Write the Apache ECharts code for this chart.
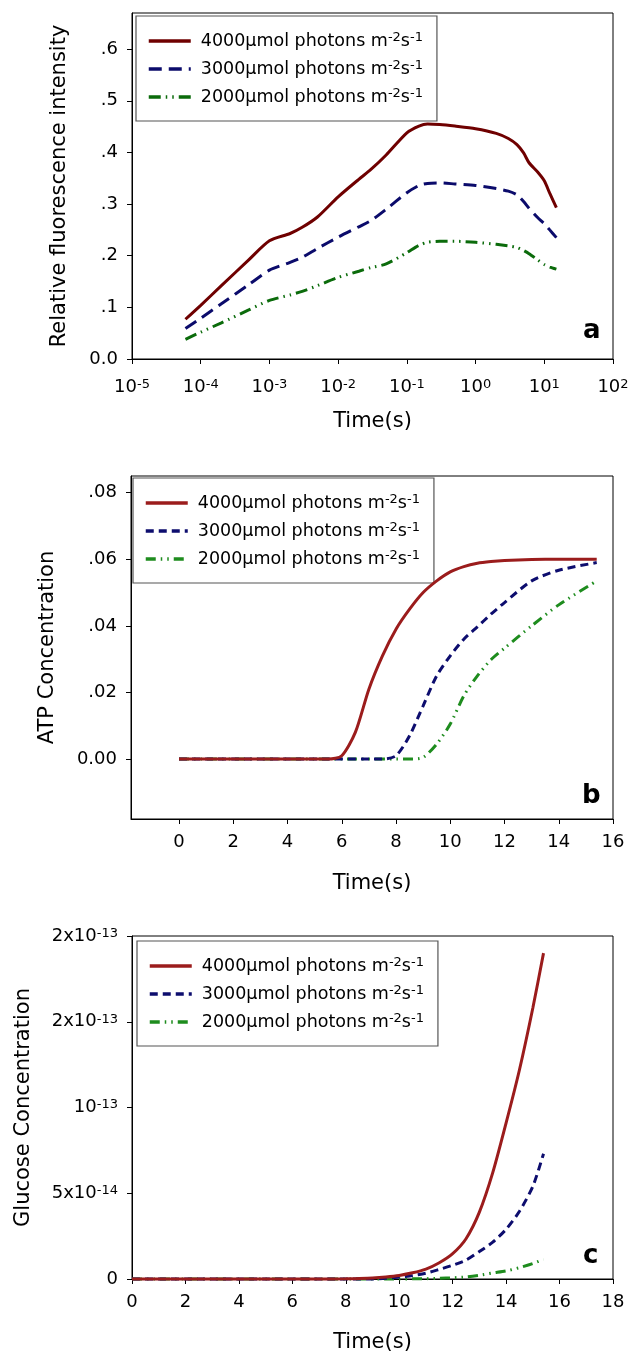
<!DOCTYPE html>
<html><head><meta charset="utf-8">
<script src="https://cdn.jsdelivr.net/npm/echarts@6/dist/echarts.min.js"></script>
<style>html,body{margin:0;padding:0;background:#fff}#c{width:630px;height:1358px}</style>
</head><body><div id="c"></div><script>
// ---------- data ----------
const lightLevels = ['4000', '3000', '2000'];

// Panel a: relative fluorescence vs time (log scale)
const timeA = [6e-5, 1e-4, 2e-4, 5e-4, 1e-3, 2e-3, 3e-3, 5e-3, 1e-2, 2e-2, 3e-2, 5e-2, 0.1, 0.15, 0.2, 0.3, 0.5, 1, 2, 3, 4, 5, 6, 8, 10, 12, 15];
const fluor4000 = [0.077, 0.104, 0.142, 0.192, 0.229, 0.243, 0.255, 0.275, 0.314, 0.348, 0.367, 0.395, 0.438, 0.451, 0.455, 0.454, 0.451, 0.446, 0.437, 0.427, 0.415, 0.399, 0.380, 0.362, 0.345, 0.321, 0.293];
const fluor3000 = [0.059, 0.079, 0.107, 0.144, 0.172, 0.187, 0.197, 0.214, 0.236, 0.256, 0.268, 0.290, 0.322, 0.336, 0.340, 0.341, 0.339, 0.336, 0.330, 0.325, 0.318, 0.305, 0.292, 0.274, 0.262, 0.250, 0.235];
const fluor2000 = [0.038, 0.052, 0.070, 0.095, 0.1135, 0.124, 0.131, 0.142, 0.158, 0.170, 0.177, 0.184, 0.206, 0.220, 0.226, 0.228, 0.228, 0.226, 0.222, 0.219, 0.216, 0.210, 0.204, 0.192, 0.183, 0.178, 0.174];
const xExpA = [-5, -4, -3, -2, -1, 0, 1, 2];
const yTicksA = [0, 0.1, 0.2, 0.3, 0.4, 0.5, 0.6];
const yLabelsA = ['0.0', '.1', '.2', '.3', '.4', '.5', '.6'];

// Panel b: ATP concentration vs time
const timeB = [0, 1, 2, 3, 4, 5, 5.5, 6, 6.5, 7, 7.5, 8, 8.5, 9, 9.5, 10, 10.5, 11, 11.5, 12, 13, 14, 15.4];
const atp4000 = [0, 0, 0, 0, 0, 0, 0, 0.001, 0.008, 0.021, 0.031, 0.039, 0.045, 0.050, 0.0535, 0.0562, 0.0578, 0.0588, 0.0593, 0.0596, 0.0599, 0.0600, 0.0600];
const atp3000 = [0, 0, 0, 0, 0, 0, 0, 0, 0, 0, 0, 0.001, 0.007, 0.016, 0.025, 0.031, 0.036, 0.0397, 0.0435, 0.047, 0.0535, 0.0567, 0.059];
const atp2000 = [0, 0, 0, 0, 0, 0, 0, 0, 0, 0, 0, 0, 0, 0.0005, 0.0045, 0.0105, 0.019, 0.025, 0.0298, 0.0333, 0.040, 0.0463, 0.0535];
const xTicksB = [0, 2, 4, 6, 8, 10, 12, 14, 16];
const yTicksB = [0, 0.02, 0.04, 0.06, 0.08];
const yLabelsB = ['0.00', '.02', '.04', '.06', '.08'];

// Panel c: glucose concentration vs time
const timeC = [0, 1, 2, 3, 4, 5, 6, 7, 8, 8.5, 9, 9.5, 10, 10.5, 11, 11.5, 12, 12.5, 13, 13.5, 14, 14.5, 15, 15.4];
const glc4000 = [0, 0, 0, 0, 0, 0, 0, 0, 0.001e-13, 0.003e-13, 0.006e-13, 0.012e-13, 0.021e-13, 0.036e-13, 0.058e-13, 0.095e-13, 0.148e-13, 0.235e-13, 0.39e-13, 0.62e-13, 0.91e-13, 1.22e-13, 1.58e-13, 1.90e-13];
const glc3000 = [0, 0, 0, 0, 0, 0, 0, 0, 0, 0, 0, 0.004e-13, 0.011e-13, 0.02e-13, 0.034e-13, 0.056e-13, 0.08e-13, 0.11e-13, 0.16e-13, 0.215e-13, 0.29e-13, 0.395e-13, 0.54e-13, 0.73e-13];
const glc2000 = [0, 0, 0, 0, 0, 0, 0, 0, 0, 0, 0, 0, 0, 0.001e-13, 0.002e-13, 0.004e-13, 0.007e-13, 0.012e-13, 0.022e-13, 0.035e-13, 0.047e-13, 0.066e-13, 0.09e-13, 0.115e-13];
const xTicksC = [0, 2, 4, 6, 8, 10, 12, 14, 16, 18];
const yTicksC = [0, 5e-14, 1e-13, 1.5e-13, 2e-13];
const yLabelsC = ['0', '5x10{sup|-14}', '10{sup|-13}', '2x10{sup|-13}', '2x10{sup|-13}'];

// ---------- styling ----------
const FONT = 'DejaVu Sans';
const zip = (xs, ys) => xs.map((x, i) => [x, ys[i]]);
const findLabel = (ticks, labels, v) => {
  for (let i = 0; i < ticks.length; i++) {
    if (Math.abs(ticks[i] - v) <= Math.abs(ticks[ticks.length - 1]) * 1e-6 + 1e-18) return labels[i];
  }
  return '';
};
const sup = { fontSize: 13, fontFamily: FONT, color: '#000', verticalAlign: 'top', lineHeight: 12 };
const tickLabel = (extra) => Object.assign({ fontSize: 18, fontFamily: FONT, color: '#000', rich: { sup } }, extra);
const axisLine = { show: true, onZero: false, lineStyle: { color: '#000', width: 1 } };
const axisTick = (vals, extra) => Object.assign({ show: true, length: 5, lineStyle: { color: '#000', width: 1 } }, vals ? { customValues: vals } : {}, extra || {});
const nameStyle = { fontSize: 21, fontFamily: FONT, color: '#000' };

const stylesA = [
  { color: '#6f0000', type: 'solid' },
  { color: '#0b0b6b', type: [13, 7] },
  { color: '#0b6b0b', type: [12, 5, 1.5, 5, 1.5, 5] }
];
const stylesBC = [
  { color: '#9b1c1c', type: 'solid' },
  { color: '#0d0d6e', type: [8, 5] },
  { color: '#1e8c1e', type: [10, 5, 1.5, 5, 1.5, 5] }
];

function mkSeries(prefix, idx, xs, ysList, styles) {
  return ysList.map((ys, i) => ({
    name: prefix + lightLevels[i],
    type: 'line',
    xAxisIndex: idx, yAxisIndex: idx,
    data: zip(xs, ys),
    symbol: 'none',
    smooth: 0.25,
    clip: false,
    z: 5 - i,
    lineStyle: { color: styles[i].color, width: 3, type: styles[i].type, cap: 'butt' },
    itemStyle: { color: styles[i].color }
  }));
}

function mkLegend(prefix, left, top) {
  return {
    data: lightLevels.map(l => prefix + l),
    orient: 'vertical',
    left, top,
    selectedMode: false,
    backgroundColor: '#fff',
    borderColor: '#555',
    borderWidth: 1.2,
    borderRadius: 0,
    padding: [15, 14, 14, 11],
    itemWidth: 42,
    itemHeight: 14,
    itemGap: 8,
    itemStyle: { color: 'rgba(0,0,0,0)', borderColor: 'rgba(0,0,0,0)', borderWidth: 0, opacity: 0 },
    lineStyle: { width: 3.5 },
    formatter: name => name.slice(1) + 'μmol photons m{sup|-2}s{sup|-1}',
    textStyle: {
      fontSize: 17.5, fontFamily: FONT, color: '#000', lineHeight: 20, padding: [0, 0, 0, 5],
      rich: { sup: { fontSize: 13, fontFamily: FONT, color: '#000', verticalAlign: 'top', lineHeight: 12 } }
    }
  };
}

const option = {
  animation: false,
  backgroundColor: '#fff',
  grid: [
    { left: 132, right: 17, top: 13, height: 346, show: true, borderColor: '#000', borderWidth: 1, backgroundColor: '#fff', containLabel: false, outerBoundsMode: 'none' },
    { left: 131, right: 17, top: 476, height: 343, show: true, borderColor: '#000', borderWidth: 1, backgroundColor: '#fff', containLabel: false, outerBoundsMode: 'none' },
    { left: 132, right: 17, top: 936, height: 343, show: true, borderColor: '#000', borderWidth: 1, backgroundColor: '#fff', containLabel: false, outerBoundsMode: 'none' }
  ],
  xAxis: [
    {
      gridIndex: 0, type: 'log', logBase: 10, min: 1e-5, max: 1e2, interval: 1, splitNumber: 7,
      name: 'Time(s)', nameLocation: 'middle', nameGap: 52, nameTextStyle: nameStyle,
      axisLine, axisTick: axisTick(null), splitLine: { show: false }, minorTick: { show: false },
      axisLabel: tickLabel({
        margin: 19,
        formatter: v => {
          const e = Math.round(Math.log10(v));
          return xExpA.indexOf(e) >= 0 ? '10{sup|' + e + '}' : '';
        }
      })
    },
    {
      gridIndex: 1, type: 'value', min: -1.77, max: 16,
      name: 'Time(s)', nameLocation: 'middle', nameGap: 54, nameTextStyle: nameStyle,
      axisLine, axisTick: axisTick(xTicksB), splitLine: { show: false },
      axisLabel: tickLabel({ margin: 14, customValues: xTicksB, formatter: v => String(Math.round(v)) })
    },
    {
      gridIndex: 2, type: 'value', min: 0, max: 18,
      name: 'Time(s)', nameLocation: 'middle', nameGap: 53, nameTextStyle: nameStyle,
      axisLine, axisTick: axisTick(xTicksC), splitLine: { show: false },
      axisLabel: tickLabel({ margin: 14, customValues: xTicksC, formatter: v => String(Math.round(v)) })
    }
  ],
  yAxis: [
    {
      gridIndex: 0, type: 'value', min: 0, max: 0.67,
      name: 'Relative fluorescence intensity', nameLocation: 'middle', nameGap: 62, nameTextStyle: nameStyle,
      axisLine, axisTick: axisTick(yTicksA), splitLine: { show: false },
      axisLabel: tickLabel({ margin: 14, customValues: yTicksA, formatter: v => findLabel(yTicksA, yLabelsA, v) })
    },
    {
      gridIndex: 1, type: 'value', min: -0.018, max: 0.085,
      name: 'ATP Concentration', nameLocation: 'middle', nameGap: 73, nameTextStyle: nameStyle,
      axisLine, axisTick: axisTick(yTicksB), splitLine: { show: false },
      axisLabel: tickLabel({ margin: 14, customValues: yTicksB, formatter: v => findLabel(yTicksB, yLabelsB, v) })
    },
    {
      gridIndex: 2, type: 'value', min: 0, max: 2e-13,
      name: 'Glucose Concentration', nameLocation: 'middle', nameGap: 98, nameTextStyle: nameStyle,
      axisLine, axisTick: axisTick(yTicksC), splitLine: { show: false },
      axisLabel: tickLabel({ margin: 14, customValues: yTicksC, formatter: v => findLabel(yTicksC, yLabelsC, v) })
    }
  ],
  legend: [mkLegend('a', 136, 16), mkLegend('b', 133, 478), mkLegend('c', 137, 941)],
  graphic: [
    { type: 'text', left: 583, top: 318, style: { text: 'a', fontSize: 26, fontWeight: 'bold', fontFamily: FONT, fill: '#000' } },
    { type: 'text', left: 582, top: 783, style: { text: 'b', fontSize: 26, fontWeight: 'bold', fontFamily: FONT, fill: '#000' } },
    { type: 'text', left: 583, top: 1243, style: { text: 'c', fontSize: 26, fontWeight: 'bold', fontFamily: FONT, fill: '#000' } }
  ],
  series: [].concat(
    mkSeries('a', 0, timeA, [fluor4000, fluor3000, fluor2000], stylesA),
    mkSeries('b', 1, timeB, [atp4000, atp3000, atp2000], stylesBC),
    mkSeries('c', 2, timeC, [glc4000, glc3000, glc2000], stylesBC)
  )
};

const chart = echarts.init(document.getElementById('c'), null, { renderer: 'canvas' });
chart.setOption(option);
</script></body></html>
